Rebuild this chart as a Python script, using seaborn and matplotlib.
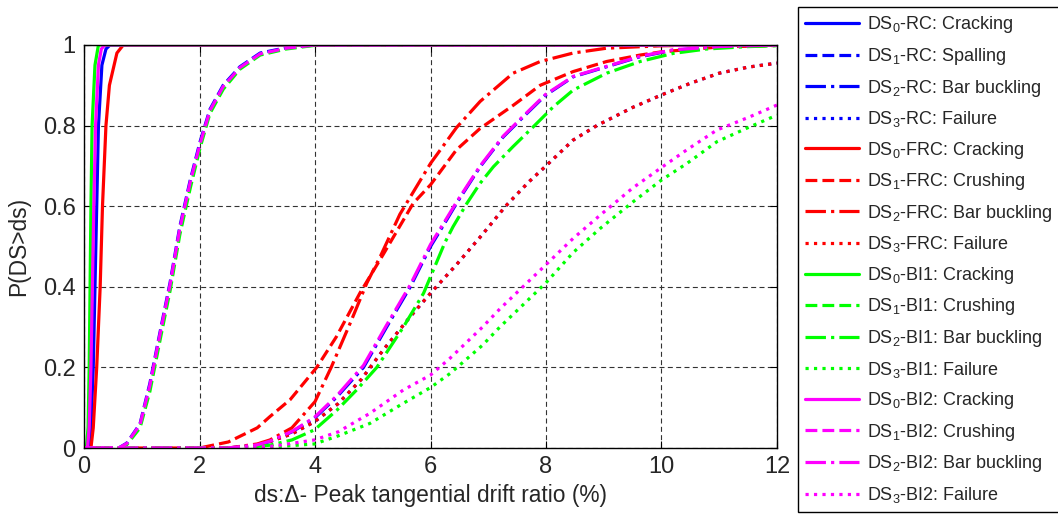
import numpy as np
import pandas as pd
import seaborn as sns
import matplotlib.pyplot as plt

# fragility curves: drift ratio (%) and P(DS>ds)
# DS0 - cracking (solid)
ds0_rc_x = [0, 0.08, 0.12, 0.16, 0.22, 0.25, 0.31, 0.38, 0.45, 12]
ds0_rc_p = [0, 0, 0.05, 0.2, 0.6, 0.8, 0.95, 0.99, 1, 1]
ds0_frc_x = [0, 0.12, 0.16, 0.22, 0.28, 0.32, 0.38, 0.44, 0.57, 0.68, 12]
ds0_frc_p = [0, 0, 0.05, 0.2, 0.4, 0.6, 0.8, 0.9, 0.98, 1, 1]
ds0_bi1_x = [0, 0.04, 0.07, 0.09, 0.12, 0.14, 0.19, 0.25, 12]
ds0_bi1_p = [0, 0, 0.05, 0.2, 0.6, 0.8, 0.95, 1, 1]
ds0_bi2_x = [0, 0.06, 0.09, 0.12, 0.17, 0.20, 0.25, 0.30, 0.36, 12]
ds0_bi2_p = [0, 0, 0.05, 0.2, 0.6, 0.8, 0.95, 0.99, 1, 1]

# DS1 (dashed)
ds1_x = [0, 0.6, 0.74, 0.97, 1.14, 1.32, 1.49, 1.66, 1.84, 2.01, 2.18, 2.41, 2.70, 3.05, 3.5, 4.0, 12]
ds1_rc_p = [0, 0, 0.012, 0.06, 0.16, 0.29, 0.41, 0.55, 0.665, 0.76, 0.84, 0.90, 0.946, 0.98, 0.993, 1.0, 1.0]
ds1_bi1_p = [0, 0, 0.008, 0.05, 0.14, 0.27, 0.39, 0.53, 0.645, 0.745, 0.83, 0.89, 0.94, 0.975, 0.99, 0.999, 1.0]
ds1_bi2_p = [0, 0, 0.011, 0.058, 0.155, 0.285, 0.405, 0.545, 0.66, 0.755, 0.837, 0.897, 0.944, 0.978, 0.992, 1.0, 1.0]
ds1_frc_x = [0, 2.0, 2.5, 3.0, 3.22, 3.57, 4.03, 4.37, 4.78, 5.18, 5.7, 6.0, 6.45, 6.86, 7.43, 7.9,
             8.47, 9.05, 9.63, 10.0, 11.0, 12.0]
ds1_frc_p = [0, 0, 0.015, 0.05, 0.078, 0.12, 0.2, 0.276, 0.385, 0.48, 0.607, 0.653, 0.74, 0.793, 0.85, 0.90,
             0.934, 0.959, 0.975, 0.983, 0.995, 0.999]

# DS2 - bar buckling (dash-dot)
ds2_rc_x = [0, 2.5, 3.0, 3.22, 3.6, 3.99, 4.38, 4.84, 5.24, 5.65, 6.0, 6.28, 6.45, 6.86, 7.26, 7.61, 7.99,
            8.47, 9.05, 9.63, 10.2, 11.0, 12.0]
ds2_rc_p = [0, 0, 0.008, 0.016, 0.04, 0.074, 0.127, 0.2, 0.30, 0.40, 0.50, 0.566, 0.607, 0.698, 0.772, 0.822, 0.875,
            0.921, 0.946, 0.971, 0.987, 0.996, 1.0]
ds2_bi2_p = [0, 0, 0.008, 0.017, 0.041, 0.076, 0.13, 0.205, 0.305, 0.405, 0.505, 0.57, 0.61, 0.70, 0.774, 0.824, 0.877,
             0.922, 0.947, 0.972, 0.988, 0.996, 1.0]
ds2_frc_x = [0, 2.5, 3.0, 3.22, 3.6, 4.0, 4.28, 4.61, 4.9, 5.13, 5.47, 6.0, 6.45, 6.86, 7.43, 7.9, 8.47, 9.05,
             10.0, 11.0, 12.0]
ds2_frc_p = [0, 0, 0.01, 0.02, 0.05, 0.115, 0.2, 0.31, 0.41, 0.475, 0.58, 0.706, 0.795, 0.86, 0.93, 0.959, 0.98, 0.992,
             0.998, 1.0, 1.0]
ds2_bi1_x = [0, 2.5, 3.0, 3.22, 3.6, 3.99, 4.38, 4.72, 5.07, 5.53, 5.88, 6.25, 6.39, 6.63, 6.86, 7.09, 7.43, 7.78,
             8.13, 8.47, 9.05, 9.63, 10.2, 10.78, 11.5, 12.0]
ds2_bi1_p = [0, 0, 0.004, 0.007, 0.02, 0.045, 0.094, 0.144, 0.2, 0.30, 0.384, 0.51, 0.549, 0.607, 0.657, 0.698, 0.748,
             0.797, 0.847, 0.888, 0.93, 0.959, 0.979, 0.99, 0.996, 0.998]

# DS3 - failure (dotted)
ds3_rc_x = [0, 2.5, 3.0, 3.22, 3.6, 3.99, 4.4, 4.8, 5.18, 5.65, 6.0, 6.45, 6.9, 7.3, 7.7, 8.0, 8.47, 8.88, 9.5,
            10.0, 10.5, 11.0, 11.5, 12.0]
ds3_rc_p = [0, 0, 0.008, 0.016, 0.035, 0.065, 0.11, 0.17, 0.243, 0.326, 0.384, 0.455, 0.53, 0.60, 0.66, 0.70, 0.764,
            0.80, 0.845, 0.876, 0.905, 0.93, 0.945, 0.955]
ds3_frc_p = ds3_rc_p
ds3_bi_x = [0, 2.8, 3.3, 3.99, 4.4, 4.95, 5.53, 6.0, 6.34, 6.9, 7.2, 7.6, 8.0, 8.47, 8.94, 9.5, 10.0, 10.44, 10.96,
            11.5, 12.0]
ds3_bi1_p = [0, 0, 0.003, 0.01, 0.03, 0.061, 0.111, 0.15, 0.185, 0.255, 0.30, 0.355, 0.41, 0.485, 0.545, 0.61, 0.665,
             0.706, 0.76, 0.795, 0.826]
ds3_bi2_p = [0, 0, 0.005, 0.02, 0.04, 0.086, 0.144, 0.181, 0.223, 0.30, 0.345, 0.40, 0.455, 0.52, 0.578, 0.645, 0.696,
             0.74, 0.789, 0.82, 0.851]

blue, red, green, magenta = '#0000ff', '#ff0000', '#00ff00', '#ff00ff'

curves = [
    ('DS$_0$-RC: Cracking', ds0_rc_x, ds0_rc_p, blue, '-'),
    ('DS$_1$-RC: Spalling', ds1_x, ds1_rc_p, blue, '--'),
    ('DS$_2$-RC: Bar buckling', ds2_rc_x, ds2_rc_p, blue, '-.'),
    ('DS$_3$-RC: Failure', ds3_rc_x, ds3_rc_p, blue, ':'),
    ('DS$_0$-FRC: Cracking', ds0_frc_x, ds0_frc_p, red, '-'),
    ('DS$_1$-FRC: Crushing', ds1_frc_x, ds1_frc_p, red, '--'),
    ('DS$_2$-FRC: Bar buckling', ds2_frc_x, ds2_frc_p, red, '-.'),
    ('DS$_3$-FRC: Failure', ds3_rc_x, ds3_frc_p, red, ':'),
    ('DS$_0$-BI1: Cracking', ds0_bi1_x, ds0_bi1_p, green, '-'),
    ('DS$_1$-BI1: Crushing', ds1_x, ds1_bi1_p, green, '--'),
    ('DS$_2$-BI1: Bar buckling', ds2_bi1_x, ds2_bi1_p, green, '-.'),
    ('DS$_3$-BI1: Failure', ds3_bi_x, ds3_bi1_p, green, ':'),
    ('DS$_0$-BI2: Cracking', ds0_bi2_x, ds0_bi2_p, magenta, '-'),
    ('DS$_1$-BI2: Crushing', ds1_x, ds1_bi2_p, magenta, '--'),
    ('DS$_2$-BI2: Bar buckling', ds2_rc_x, ds2_bi2_p, magenta, '-.'),
    ('DS$_3$-BI2: Failure', ds3_bi_x, ds3_bi2_p, magenta, ':'),
]

sns.set_style('ticks')
plt.rcParams['font.family'] = ['Liberation Sans', 'DejaVu Sans']
plt.rcParams['mathtext.default'] = 'regular'

fig = plt.figure(figsize=(10.58, 5.14), dpi=100)
ax = fig.add_axes([0.0794, 0.1284, 0.655, 0.7841])

for label, x, p, color, ls in curves:
    df = pd.DataFrame({'x': x, 'p': p})
    sns.lineplot(data=df, x='x', y='p', ax=ax, color=color, linestyle=ls, lw=2.3,
                 label=label, errorbar=None, sort=False)

ax.set_xlim(0, 12)
ax.set_ylim(0, 1)
ax.set_xticks(np.arange(0, 13, 2))
ax.set_yticks([0, 0.2, 0.4, 0.6, 0.8, 1])
ax.set_yticklabels(['0', '0.2', '0.4', '0.6', '0.8', '1'])
ax.grid(True, color='#333333', linestyle=(0, (4.5, 3)), lw=0.8)
ax.tick_params(direction='in', length=5, labelsize=17, top=True, right=True, color='black', pad=6)
for s in ax.spines.values():
    s.set_color('black')
    s.set_linewidth(1)
ax.set_xlabel('ds:\u0394- Peak tangential drift ratio (%)', fontsize=16.4, labelpad=4)
ax.set_ylabel('P(DS>ds)', fontsize=16.4, labelpad=9)

leg = ax.legend(loc='upper left', bbox_to_anchor=(0.754, 0.986), bbox_transform=fig.transFigure,
                fontsize=13, handlelength=3.0, handletextpad=0.45, labelspacing=0.585, borderpad=0.4,
                borderaxespad=0, frameon=True, fancybox=False, framealpha=1)
leg.get_frame().set_edgecolor('black')
leg.get_frame().set_linewidth(1)

fig.savefig('out.png', dpi=100)
